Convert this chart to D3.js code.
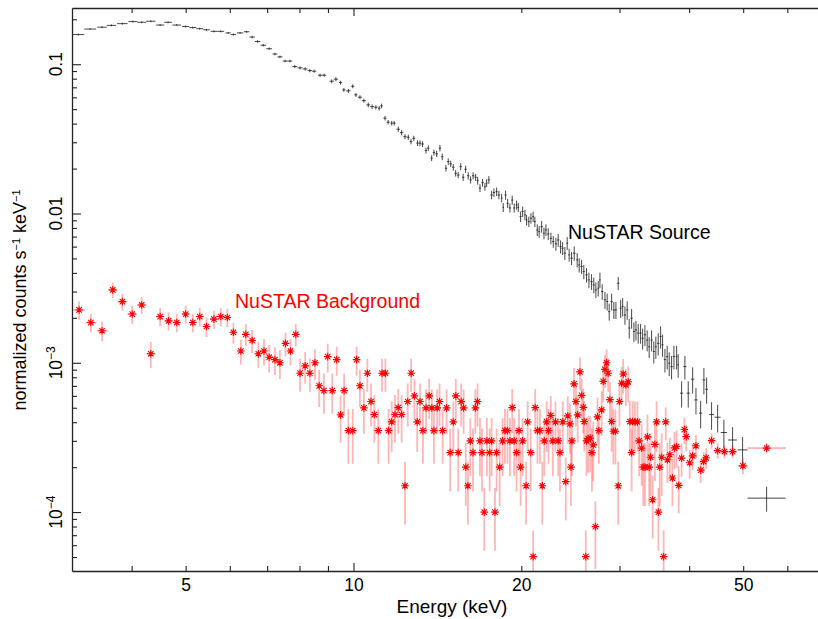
<!DOCTYPE html>
<html>
<head>
<meta charset="utf-8">
<script src="https://cdn.jsdelivr.net/npm/d3@7"></script>
<style>
  body { margin: 0; background: #fff; }
  svg { display: block; }
</style>
</head>
<body>
<div id="chart"></div>
<script>
// [energy keV, normalized counts s^-1 keV^-1, relative error, (bin lo, bin hi)]
const sourcePoints = [
  [3.21, 0.158, 0.015], [3.37, 0.172, 0.015], [3.54, 0.177, 0.015], [3.68, 0.182, 0.015],
  [3.85, 0.187, 0.015], [4.02, 0.193, 0.015], [4.17, 0.191, 0.015], [4.33, 0.194, 0.015],
  [4.50, 0.183, 0.015], [4.65, 0.191, 0.015], [4.82, 0.183, 0.015], [5.00, 0.179, 0.015],
  [5.15, 0.176, 0.015], [5.30, 0.173, 0.015], [5.45, 0.170, 0.015], [5.62, 0.166, 0.015],
  [5.78, 0.166, 0.015], [5.96, 0.162, 0.015], [6.09, 0.158, 0.015], [6.26, 0.162, 0.015],
  [6.43, 0.165, 0.015], [6.58, 0.152, 0.02], [6.73, 0.142, 0.02], [6.89, 0.134, 0.02],
  [7.06, 0.127, 0.02], [7.23, 0.117, 0.02], [7.38, 0.112, 0.02], [7.54, 0.105, 0.02],
  [7.69, 0.105, 0.02], [7.85, 0.0964, 0.025], [8.02, 0.0945, 0.025], [8.19, 0.0930, 0.025],
  [8.35, 0.0906, 0.025], [8.50, 0.0898, 0.025], [8.71, 0.0844, 0.025], [8.86, 0.0844, 0.025],
  [9.14, 0.0769, 0.03], [9.30, 0.0794, 0.03], [9.48, 0.0753, 0.03], [9.61, 0.0673, 0.03],
  [9.79, 0.0663, 0.03], [9.97, 0.0712, 0.03], [10.10, 0.0623, 0.03], [10.27, 0.0601, 0.03],
  [10.44, 0.0570, 0.03], [10.63, 0.0534, 0.035], [10.80, 0.0520, 0.035], [10.97, 0.0515, 0.035],
  [11.12, 0.0507, 0.035], [11.23, 0.0526, 0.035], [11.39, 0.0435, 0.035], [11.54, 0.0409, 0.035],
  [11.71, 0.0403, 0.035], [11.83, 0.0403, 0.035], [12.03, 0.0367, 0.04], [12.20, 0.0348, 0.04],
  [12.37, 0.0327, 0.04], [12.54, 0.0324, 0.04], [12.68, 0.0303, 0.04], [12.83, 0.0319, 0.04],
  [13.03, 0.0296, 0.045], [13.16, 0.0296, 0.045], [13.30, 0.0292, 0.045], [13.49, 0.0264, 0.045],
  [13.62, 0.0274, 0.045], [13.81, 0.0235, 0.045], [13.94, 0.0256, 0.045], [14.10, 0.0251, 0.05],
  [14.29, 0.0274, 0.05], [14.43, 0.0240, 0.05], [14.65, 0.0201, 0.05], [14.79, 0.0223, 0.05],
  [14.94, 0.0215, 0.05], [15.10, 0.0204, 0.05], [15.25, 0.0186, 0.05], [15.41, 0.0181, 0.05],
  [15.57, 0.0206, 0.055], [15.73, 0.0175, 0.055], [15.89, 0.0198, 0.055], [16.06, 0.0179, 0.055],
  [16.22, 0.0168, 0.055], [16.39, 0.0179, 0.055], [16.56, 0.0175, 0.055], [16.70, 0.0166, 0.06],
  [16.86, 0.0148, 0.06], [17.04, 0.0161, 0.06], [17.21, 0.0151, 0.06], [17.33, 0.0160, 0.06],
  [17.49, 0.0168, 0.06], [17.69, 0.0133, 0.065], [17.86, 0.0138, 0.065], [18.06, 0.0140, 0.065],
  [18.23, 0.0133, 0.065], [18.44, 0.0127, 0.065], [18.56, 0.0110, 0.07], [18.74, 0.0133, 0.07],
  [18.90, 0.0117, 0.07], [19.08, 0.0109, 0.07], [19.26, 0.0123, 0.07], [19.42, 0.0109, 0.07],
  [19.61, 0.0114, 0.07], [19.75, 0.0110, 0.07], [19.94, 0.00953, 0.08], [20.11, 0.0103, 0.08],
  [20.30, 0.00979, 0.08], [20.44, 0.00906, 0.08], [20.63, 0.00882, 0.08], [20.81, 0.00930, 0.08],
  [21.00, 0.00953, 0.08], [21.15, 0.00882, 0.08], [21.36, 0.00776, 0.09], [21.53, 0.00756, 0.09],
  [21.75, 0.00817, 0.09], [21.96, 0.00738, 0.09], [22.14, 0.00776, 0.09], [22.35, 0.00730, 0.09],
  [22.60, 0.00683, 0.09], [22.82, 0.00648, 0.09], [23.07, 0.00626, 0.1], [23.29, 0.00665, 0.1],
  [23.52, 0.00600, 0.1], [23.72, 0.00585, 0.1], [23.94, 0.00542, 0.1], [24.17, 0.00632, 0.1],
  [24.37, 0.00528, 0.1], [24.61, 0.00502, 0.1], [24.88, 0.00542, 0.11], [25.19, 0.00489, 0.11],
  [25.40, 0.00452, 0.11], [25.65, 0.00441, 0.11], [25.89, 0.00408, 0.11], [26.18, 0.00388, 0.11],
  [26.44, 0.00359, 0.12], [26.73, 0.00350, 0.12], [26.98, 0.00332, 0.12], [27.21, 0.00308, 0.12],
  [27.48, 0.00316, 0.12], [27.67, 0.00359, 0.12], [27.93, 0.00300, 0.12], [28.25, 0.00264, 0.13],
  [28.51, 0.00257, 0.13], [28.75, 0.00220, 0.13], [29.04, 0.00257, 0.13], [29.31, 0.00226, 0.13],
  [29.56, 0.00226, 0.13], [29.84, 0.00341, 0.1], [30.14, 0.00232, 0.14], [30.39, 0.00238, 0.14],
  [30.68, 0.00209, 0.14], [30.97, 0.00226, 0.14], [31.23, 0.00171, 0.15], [31.54, 0.00199, 0.15],
  [31.84, 0.00162, 0.15], [32.11, 0.00166, 0.15], [32.41, 0.00158, 0.15], [32.73, 0.00158, 0.15],
  [33.01, 0.00146, 0.16], [33.32, 0.00154, 0.16], [33.63, 0.00142, 0.16], [33.91, 0.00128, 0.16],
  [34.25, 0.00142, 0.16], [34.57, 0.00119, 0.17], [34.86, 0.00128, 0.17], [35.20, 0.00135, 0.17],
  [35.55, 0.00150, 0.17], [35.84, 0.00132, 0.17], [36.19, 0.00105, 0.18], [36.53, 0.00110, 0.18],
  [36.84, 0.000994, 0.18], [37.20, 0.000943, 0.18], [37.56, 0.00110, 0.18], [37.98, 0.00110, 0.18],
  [38.23, 0.000968, 0.18], [38.77, 0.000626, 0.2], [39.30, 0.000943, 0.18], [39.85, 0.000626, 0.2],
  [40.58, 0.000777, 0.2], [41.14, 0.000564, 0.2], [41.94, 0.000460, 0.21], [42.51, 0.000768, 0.2],
  [42.99, 0.000665, 0.2], [43.88, 0.000450, 0.21], [44.99, 0.000432, 0.21], [46.17, 0.000341, 0.22],
  [47.86, 0.000304, 0.22], [49.88, 0.000261, 0.22], [55.08, 0.000124, 0.19, 50.9, 59.6]
];

const backgroundPoints = [
  [3.22, 0.00226, 0.14], [3.38, 0.00186, 0.14], [3.54, 0.00164, 0.15], [3.70, 0.00308, 0.12],
  [3.85, 0.00257, 0.13], [4.01, 0.00212, 0.14], [4.17, 0.00244, 0.13], [4.33, 0.00115, 0.2],
  [4.50, 0.00204, 0.14], [4.66, 0.00191, 0.14], [4.82, 0.00186, 0.14], [5.00, 0.00212, 0.14],
  [5.15, 0.00186, 0.14], [5.30, 0.00204, 0.14], [5.45, 0.00175, 0.15], [5.62, 0.00196, 0.14],
  [5.78, 0.00204, 0.14], [5.94, 0.00201, 0.14], [6.09, 0.00160, 0.16], [6.28, 0.00120, 0.19],
  [6.41, 0.00155, 0.17], [6.58, 0.00141, 0.18], [6.75, 0.00115, 0.2], [6.91, 0.00120, 0.2],
  [7.06, 0.00109, 0.21], [7.23, 0.00105, 0.21], [7.38, 0.00100, 0.22], [7.55, 0.00135, 0.18],
  [7.71, 0.00120, 0.2], [7.88, 0.00155, 0.17], [8.02, 0.000852, 0.25], [8.19, 0.000953, 0.24],
  [8.35, 0.000852, 0.25], [8.53, 0.00100, 0.23], [8.68, 0.000701, 0.28], [8.85, 0.000651, 0.3],
  [8.99, 0.00110, 0.22], [9.16, 0.000651, 0.3], [9.33, 0.00105, 0.22], [9.48, 0.000448, 0.35],
  [9.62, 0.000651, 0.3], [9.79, 0.000351, 0.4], [9.97, 0.000351, 0.4], [10.13, 0.00105, 0.22],
  [10.27, 0.000701, 0.28], [10.44, 0.000499, 0.33], [10.59, 0.000852, 0.25], [10.75, 0.000550, 0.32],
  [10.90, 0.000450, 0.35], [11.08, 0.000351, 0.4], [11.25, 0.000852, 0.25], [11.41, 0.000852, 0.25],
  [11.56, 0.000351, 0.4], [11.71, 0.000402, 0.37], [11.87, 0.000450, 0.35], [12.03, 0.000501, 0.33],
  [12.20, 0.000450, 0.35], [12.37, 0.000150, 0.45], [12.51, 0.000550, 0.32], [12.69, 0.000852, 0.25],
  [12.86, 0.000600, 0.3], [13.01, 0.000402, 0.37], [13.16, 0.000550, 0.32], [13.32, 0.000351, 0.4],
  [13.49, 0.000499, 0.33], [13.67, 0.000600, 0.3], [13.82, 0.000499, 0.33], [13.94, 0.000351, 0.4],
  [14.13, 0.000499, 0.33], [14.27, 0.000550, 0.32], [14.45, 0.000351, 0.4], [14.69, 0.000499, 0.33],
  [14.91, 0.000250, 0.45], [15.10, 0.000402, 0.37], [15.26, 0.000600, 0.3], [15.41, 0.000250, 0.45],
  [15.60, 0.000550, 0.32], [15.76, 0.000499, 0.33], [15.90, 0.000200, 0.45], [16.04, 0.000150, 0.45],
  [16.20, 0.000300, 0.42], [16.38, 0.000250, 0.45], [16.54, 0.000499, 0.33], [16.69, 0.000550, 0.32],
  [16.86, 0.000300, 0.42], [17.00, 0.000250, 0.45], [17.16, 0.000100, 0.45], [17.35, 0.000300, 0.42],
  [17.55, 0.000250, 0.45], [17.69, 0.000300, 0.42], [17.94, 0.000100, 0.45], [18.06, 0.000250, 0.45],
  [18.29, 0.000200, 0.45], [18.51, 0.000300, 0.42], [18.69, 0.000351, 0.4], [18.89, 0.000351, 0.4],
  [19.08, 0.000300, 0.42], [19.26, 0.000501, 0.33], [19.42, 0.000300, 0.42], [19.61, 0.000250, 0.45],
  [19.81, 0.000351, 0.4], [19.94, 0.000200, 0.45], [20.11, 0.000300, 0.42], [20.40, 0.000150, 0.45],
  [20.53, 0.000402, 0.37], [20.79, 0.000250, 0.45], [21.00, 0.0000503, 0.5], [21.18, 0.000501, 0.33],
  [21.38, 0.000351, 0.4], [21.60, 0.000351, 0.4], [21.81, 0.000150, 0.45], [21.99, 0.000300, 0.42],
  [22.21, 0.000402, 0.37], [22.38, 0.000351, 0.4], [22.59, 0.000444, 0.35], [22.78, 0.000300, 0.42],
  [23.03, 0.000402, 0.37], [23.29, 0.000300, 0.42], [23.46, 0.000250, 0.45], [23.74, 0.000402, 0.37],
  [24.03, 0.000160, 0.45], [24.23, 0.000441, 0.35], [24.45, 0.000390, 0.37], [24.55, 0.000200, 0.45],
  [24.65, 0.000300, 0.42], [24.86, 0.000722, 0.28], [25.06, 0.000550, 0.32], [25.24, 0.000448, 0.35],
  [25.48, 0.000869, 0.25], [25.66, 0.000605, 0.3], [25.83, 0.000503, 0.33], [25.93, 0.000404, 0.37],
  [26.10, 0.0000503, 0.5], [26.18, 0.000300, 0.42], [26.36, 0.000311, 0.41], [26.58, 0.000313, 0.41],
  [26.77, 0.000250, 0.45], [26.92, 0.000282, 0.43], [27.16, 0.0000799, 0.48], [27.39, 0.000434, 0.35],
  [27.55, 0.000351, 0.4], [27.87, 0.000484, 0.33], [28.05, 0.000751, 0.27], [28.25, 0.000903, 0.25],
  [28.44, 0.00100, 0.23], [28.63, 0.000852, 0.25], [28.84, 0.000567, 0.31], [29.04, 0.000404, 0.37],
  [29.25, 0.000348, 0.4], [29.50, 0.000348, 0.4], [29.84, 0.000150, 0.45], [29.99, 0.000550, 0.32],
  [30.26, 0.000730, 0.28], [30.46, 0.000842, 0.26], [30.80, 0.000711, 0.28], [31.10, 0.000746, 0.27],
  [31.31, 0.000404, 0.37], [31.54, 0.000250, 0.45], [31.67, 0.000404, 0.37], [31.98, 0.000402, 0.37],
  [32.31, 0.000402, 0.37], [32.53, 0.000300, 0.42], [32.87, 0.000268, 0.44], [33.09, 0.000200, 0.45],
  [33.32, 0.000200, 0.45], [33.67, 0.000319, 0.41], [33.91, 0.000200, 0.45], [34.11, 0.000233, 0.45],
  [34.40, 0.000121, 0.45], [34.72, 0.000284, 0.43], [34.97, 0.000402, 0.37], [35.23, 0.000100, 0.45],
  [35.42, 0.000200, 0.45], [35.71, 0.000233, 0.45], [36.00, 0.0000503, 0.5], [36.31, 0.000402, 0.25],
  [36.57, 0.000224, 0.3], [36.94, 0.000242, 0.3], [37.33, 0.000169, 0.35], [37.64, 0.000269, 0.28],
  [37.98, 0.000275, 0.28], [38.31, 0.000151, 0.35], [38.77, 0.000230, 0.25], [39.22, 0.000357, 0.2],
  [39.52, 0.000320, 0.2], [40.08, 0.000214, 0.22], [40.58, 0.000238, 0.2], [41.14, 0.000278, 0.18],
  [41.96, 0.000191, 0.18], [42.46, 0.000218, 0.16], [42.91, 0.000231, 0.16], [43.88, 0.000301, 0.12],
  [44.99, 0.000258, 0.12], [46.27, 0.000254, 0.1], [47.86, 0.000254, 0.1], [49.94, 0.000204, 0.12],
  [55.08, 0.000268, 0.08, 50.9, 59.6]
];

const xTickValues = [5, 10, 20, 50];
const xMinorTicks = [4, 6, 7, 8, 9, 30, 40, 60, 70];
const yTickValues = [1e-4, 1e-3, 0.01, 0.1];
const yTickLabels = [["10", "\u22124"], ["10", "\u22123"], ["0.01", ""], ["0.1", ""]];
const yMinorTicks = [5e-5, 6e-5, 7e-5, 8e-5, 9e-5, 2e-4, 3e-4, 4e-4, 5e-4, 6e-4, 7e-4, 8e-4, 9e-4,
  2e-3, 3e-3, 4e-3, 5e-3, 6e-3, 7e-3, 8e-3, 9e-3, 0.02, 0.03, 0.04, 0.05, 0.06, 0.07, 0.08, 0.09, 0.2];

const svgWidth = 818, svgHeight = 619;
const font = "'Liberation Sans', Arial, Helvetica, sans-serif";
const plotLeft = 72, plotRight = 818, plotTop = 8, plotBottom = 571;

const xScale = d3.scaleLog().domain([3.127, 68.1]).range([plotLeft, plotRight]);
const yScale = d3.scaleLog().domain([4.03e-5, 0.238]).range([plotBottom, plotTop]);

const svg = d3.select("#chart").append("svg")
  .attr("width", svgWidth)
  .attr("height", svgHeight)
  .style("font-family", font);

svg.append("defs").append("clipPath").attr("id", "plotArea")
  .append("rect")
  .attr("x", plotLeft).attr("y", plotTop)
  .attr("width", plotRight - plotLeft).attr("height", plotBottom - plotTop);

// bin edges: half the log distance to the closer neighbour, unless given
const binEdges = (points) => {
  const logs = points.map((p) => Math.log10(p[0]));
  return points.map((p, i) => {
    if (p.length > 3) return [p[3], p[4]];
    const l = i > 0 ? (logs[i] - logs[i - 1]) / 2 : Infinity;
    const r = i < points.length - 1 ? (logs[i + 1] - logs[i]) / 2 : Infinity;
    const h = Math.min(l, r);
    return [p[0] / Math.pow(10, h), p[0] * Math.pow(10, h)];
  });
};

const plot = svg.append("g").attr("clip-path", "url(#plotArea)");

const drawErrors = (points, colour, opacity, strokeWidth) => {
  const edges = binEdges(points);
  const g = plot.append("g")
    .attr("stroke", colour)
    .attr("stroke-opacity", opacity)
    .attr("stroke-width", strokeWidth);
  g.selectAll("line.h").data(points).enter().append("line")
    .attr("class", "h")
    .attr("x1", (d, i) => xScale(edges[i][0]))
    .attr("x2", (d, i) => xScale(edges[i][1]))
    .attr("y1", (d) => yScale(d[1]))
    .attr("y2", (d) => yScale(d[1]));
  g.selectAll("line.v").data(points).enter().append("line")
    .attr("class", "v")
    .attr("x1", (d) => xScale(d[0]))
    .attr("x2", (d) => xScale(d[0]))
    .attr("y1", (d) => yScale(d[1] * (1 + d[2])))
    .attr("y2", (d) => yScale(Math.max(d[1] * (1 - d[2]), 1e-6)));
};

drawErrors(sourcePoints, "#1a1a1a", 0.8, 1);
drawErrors(backgroundPoints, "#ff2020", 0.33, 1.8);

const star = "M-3.8,0H3.8M0,-3.8V3.8M-2.7,-2.7L2.7,2.7M-2.7,2.7L2.7,-2.7";
plot.append("g")
  .selectAll("path")
  .data(backgroundPoints)
  .enter()
  .append("path")
  .attr("d", star)
  .attr("transform", (d) => `translate(${xScale(d[0])},${yScale(d[1])})`)
  .attr("fill", "none")
  .attr("stroke", "#ff0000")
  .attr("stroke-width", 1.1);

// axes, ticks pointing inward
const axisColour = "#222";
const isDecade = (v) => Math.abs(Math.log10(v) - Math.round(Math.log10(v))) < 1e-6;

const xAll = xTickValues.concat(xMinorTicks).filter((v) => xScale(v) <= plotRight);
const xAxis = d3.axisBottom(xScale)
  .tickValues(xAll)
  .tickSize(-5)
  .tickSizeOuter(0)
  .tickPadding(8)
  .tickFormat((d) => (xTickValues.includes(d) ? d : ""));
const gx = svg.append("g")
  .attr("transform", `translate(0,${plotBottom})`)
  .call(xAxis);
gx.selectAll(".tick line").attr("y2", (d) => (isDecade(d) ? -8 : -5));

const gxTop = svg.append("g")
  .attr("transform", `translate(0,${plotTop})`)
  .call(d3.axisTop(xScale).tickValues(xAll).tickSize(-5).tickSizeOuter(0).tickFormat(""));
gxTop.selectAll(".tick line").attr("y2", (d) => (isDecade(d) ? 8 : 5));

const gy = svg.append("g")
  .attr("transform", `translate(${plotLeft},0)`)
  .call(d3.axisLeft(yScale)
    .tickValues(yTickValues.concat(yMinorTicks))
    .tickSize(-5)
    .tickSizeOuter(0)
    .tickFormat(""));
gy.selectAll(".tick line").attr("x2", (d) => (isDecade(d) ? 9 : 5));

[gx, gxTop, gy].forEach((g) => {
  g.attr("color", axisColour).attr("font-family", font).attr("font-size", 17.5);
  g.select(".domain").attr("stroke-width", 1.3);
  g.selectAll(".tick line").attr("stroke-width", 1.1);
});
gx.selectAll(".tick text").attr("fill", "#000");

// rotated y tick labels
yTickValues.forEach((v, i) => {
  const t = svg.append("text")
    .attr("transform", `translate(62,${yScale(v)}) rotate(-90)`)
    .attr("text-anchor", "middle")
    .attr("font-size", 17.5)
    .attr("fill", "#000")
    .text(yTickLabels[i][0]);
  if (yTickLabels[i][1]) {
    t.append("tspan")
      .attr("dy", -7)
      .attr("font-size", 12)
      .text(yTickLabels[i][1]);
  }
});

// axis titles
svg.append("text")
  .attr("x", 452)
  .attr("y", 613)
  .attr("text-anchor", "middle")
  .attr("font-size", 19)
  .attr("fill", "#000")
  .text("Energy (keV)");

const yTitle = svg.append("text")
  .attr("transform", "translate(26,300) rotate(-90)")
  .attr("text-anchor", "middle")
  .attr("font-size", 18)
  .attr("fill", "#000");
yTitle.append("tspan").text("normalized counts s");
yTitle.append("tspan").attr("dy", -6).attr("font-size", 11).text("\u22121");
yTitle.append("tspan").attr("dy", 6).text(" keV");
yTitle.append("tspan").attr("dy", -6).attr("font-size", 11).text("\u22121");

// series labels
svg.append("text")
  .attr("x", 568).attr("y", 239)
  .attr("font-size", 19.5)
  .attr("fill", "#000")
  .text("NuSTAR Source");

svg.append("text")
  .attr("x", 235).attr("y", 308)
  .attr("font-size", 19.5)
  .attr("fill", "#ff0000")
  .text("NuSTAR Background");
</script>
</body>
</html>
